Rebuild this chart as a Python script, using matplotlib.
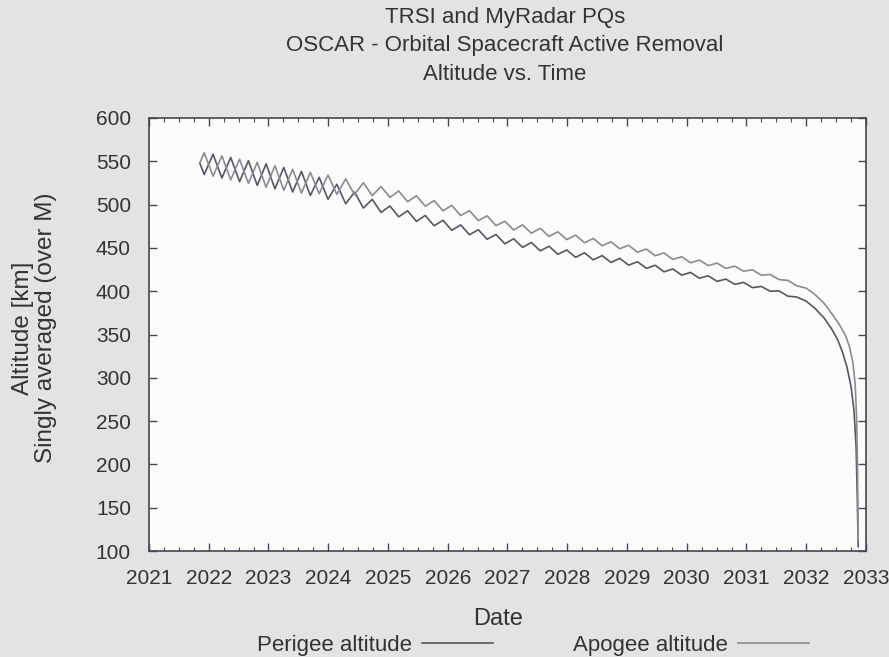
import matplotlib
matplotlib.use("Agg")
import matplotlib.pyplot as plt
from matplotlib.ticker import MultipleLocator

# sample times (year) of the wave vertices
times = [2021.850,
         2021.924, 2022.072, 2022.220, 2022.368, 2022.516, 2022.664, 2022.812, 2022.960,
         2023.108, 2023.256, 2023.404, 2023.552, 2023.700, 2023.848, 2023.996, 2024.144,
         2024.292, 2024.440, 2024.588, 2024.736, 2024.884, 2025.032, 2025.180, 2025.328,
         2025.476, 2025.624, 2025.772, 2025.920, 2026.068, 2026.216, 2026.364, 2026.512,
         2026.660, 2026.808, 2026.956, 2027.104, 2027.252, 2027.400, 2027.548, 2027.696,
         2027.844, 2027.992, 2028.140, 2028.288, 2028.436, 2028.584, 2028.732, 2028.880,
         2029.028, 2029.176, 2029.324, 2029.472, 2029.620, 2029.768, 2029.916, 2030.064,
         2030.212, 2030.360, 2030.508, 2030.656, 2030.804, 2030.952, 2031.100, 2031.248,
         2031.396, 2031.544, 2031.692, 2031.840]

# apogee altitude [km] at those times
apogee = [548.0,
          559.9, 532.8, 556.3, 528.6, 552.5, 524.3, 548.8, 520.0,
          545.0, 516.5, 540.8, 513.3, 537.3, 512.5, 534.1, 511.9,
          529.6, 511.6, 525.2, 510.3, 520.8, 508.4, 515.7, 503.3,
          510.2, 498.1, 504.7, 492.9, 499.1, 487.3, 493.0, 481.6,
          487.0, 475.7, 480.8, 470.7, 476.6, 467.0, 472.6, 463.3,
          468.6, 459.6, 464.7, 456.0, 460.9, 452.5, 457.0, 449.0,
          453.1, 445.0, 448.7, 440.9, 444.2, 436.7, 439.8, 432.8,
          436.0, 429.6, 432.4, 426.3, 428.9, 423.1, 424.7, 418.5,
          419.4, 413.4, 412.5, 406.3]

# perigee altitude [km] at those times
perigee = [548.0,
           534.7, 558.2, 530.7, 554.4, 526.5, 550.7, 522.2, 547.0,
           518.2, 542.9, 514.6, 538.3, 510.5, 531.5, 506.1, 523.5,
           501.0, 514.4, 496.0, 506.1, 491.0, 498.4, 485.9, 492.9,
           480.6, 487.5, 475.5, 481.9, 470.3, 476.5, 465.2, 471.0,
           460.0, 465.5, 454.8, 460.5, 450.6, 456.2, 446.6, 451.9,
           442.6, 447.6, 439.1, 444.3, 436.2, 441.1, 433.2, 437.9,
           430.1, 434.0, 426.4, 429.9, 422.4, 425.7, 418.6, 421.7,
           415.0, 417.8, 411.4, 414.0, 407.9, 410.2, 404.1, 405.5,
           400.0, 400.4, 394.3, 393.3]

# final re-entry part of each curve
apogee_tail_t = [2032.0, 2032.15, 2032.3, 2032.45, 2032.55, 2032.65, 2032.72,
                 2032.78, 2032.82, 2032.845, 2032.86, 2032.87]
apogee_tail = [403.5, 396, 386, 372, 362, 350, 337, 318, 292, 250, 190, 112]
perigee_tail_t = [2032.0, 2032.15, 2032.3, 2032.42, 2032.52, 2032.6, 2032.68,
                  2032.75, 2032.8, 2032.835, 2032.855, 2032.87]
perigee_tail = [388.5, 380, 369, 357, 345, 331, 313, 290, 262, 220, 160, 105]

x_ticks = list(range(2021, 2034))
y_ticks = list(range(100, 601, 50))
title_lines = ['TRSI and MyRadar PQs',
               'OSCAR - Orbital Spacecraft Active Removal',
               'Altitude vs. Time']

plt.rcParams['font.family'] = ['Liberation Sans', 'DejaVu Sans']
txt = '#333333'

fig = plt.figure(figsize=(8.89, 6.57), dpi=100, facecolor='#e3e3e3')
ax = fig.add_axes([0.1676, 0.1613, 0.8065, 0.6591])
ax.set_facecolor('#fbfbfb')

line_p, = ax.plot(times + perigee_tail_t, perigee + perigee_tail,
                  color='#5a5560', lw=1.2, label='Perigee altitude')
line_a, = ax.plot(times + apogee_tail_t, apogee + apogee_tail,
                  color='#8d8a92', lw=1.2, label='Apogee altitude')

ax.set_xlim(2021, 2033)
ax.set_ylim(100, 600)
ax.set_xticks(x_ticks)
ax.set_yticks(y_ticks)
ax.xaxis.set_minor_locator(MultipleLocator(0.25))
ax.tick_params(which='both', direction='in', top=True, right=True,
               colors='#4a4450', labelcolor=txt, labelsize=15, pad=13)
ax.tick_params(which='major', length=6, width=1)
ax.tick_params(which='minor', length=3, width=0.8)
for s in ax.spines.values():
    s.set_color('#4a4450')
    s.set_linewidth(1.2)

# axis titles
fig.text(498 / 889, 1 - 619 / 657, 'Date', ha='center', va='center',
         fontsize=17, color=txt)
fig.text(34.5 / 889, 1 - 328 / 657, 'Altitude [km]\nSingly averaged (over M)',
         rotation=90, ha='center', va='center', fontsize=17.5, color=txt,
         linespacing=1.05, multialignment='center')

# three-line title
for y_px, line in zip([17, 46, 74], title_lines):
    fig.text(505 / 889, 1 - y_px / 657, line, ha='center', va='center',
             fontsize=16, color=txt)

fig.legend(handles=[line_p, line_a], loc='center', bbox_to_anchor=(533 / 889, 1 - 645 / 657),
           ncol=2, frameon=False, markerfirst=False, fontsize=16,
           handlelength=3.2, columnspacing=3.6, handletextpad=0.45,
           labelcolor=txt, borderpad=0, borderaxespad=0)

fig.savefig('out.png', dpi=100, facecolor=fig.get_facecolor())
